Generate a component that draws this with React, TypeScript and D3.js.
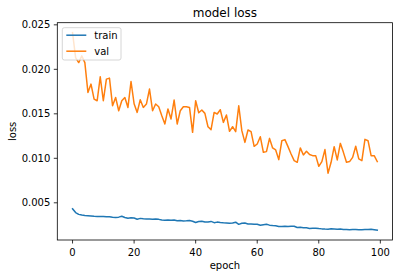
import React from "react";
import * as d3 from "d3";

const epochs: number[] = Array.from({ length: 100 }, (_, i) => i);

const trainLoss: number[] = [
  0.00433, 0.0039, 0.0037, 0.00362, 0.00358, 0.00355, 0.00352, 0.00348, 0.00347, 0.00345,
  0.00346, 0.00342, 0.00343, 0.00338, 0.00336, 0.00339, 0.00349, 0.00335, 0.00327, 0.00331,
  0.00329, 0.00316, 0.00325, 0.0032, 0.00317, 0.00318, 0.00316, 0.00319, 0.00314, 0.00306,
  0.00305, 0.00307, 0.00304, 0.00306, 0.00298, 0.00301, 0.00296, 0.00298, 0.00302, 0.00293,
  0.00279, 0.0029, 0.00292, 0.00284, 0.00285, 0.00291, 0.00277, 0.00283, 0.00279, 0.00276,
  0.00274, 0.00271, 0.00273, 0.00282, 0.00258, 0.0027, 0.00272, 0.00262, 0.00263, 0.00259,
  0.00258, 0.00247, 0.00254, 0.00258, 0.00249, 0.00244, 0.00243, 0.00233, 0.00235, 0.00237,
  0.00233, 0.00236, 0.00237, 0.00222, 0.00225, 0.00221, 0.00219, 0.00212, 0.00214, 0.00215,
  0.0021, 0.00207, 0.00205, 0.00204, 0.00208, 0.00206, 0.00203, 0.00205, 0.002, 0.00199,
  0.00197, 0.00199, 0.002, 0.00196, 0.00197, 0.00199, 0.00201, 0.00203, 0.00198, 0.00193,
];

const valLoss: number[] = [
  0.02413, 0.02132, 0.02076, 0.02151, 0.02076, 0.0174, 0.01834, 0.01666, 0.01647, 0.01916,
  0.01647, 0.0189, 0.01901, 0.01591, 0.01684, 0.01535, 0.01647, 0.01684, 0.01572, 0.01863,
  0.01613, 0.01516, 0.01658, 0.01572, 0.0161, 0.01778, 0.01535, 0.0161, 0.0158, 0.01479,
  0.01386, 0.01554, 0.01442, 0.01655, 0.01386, 0.01535, 0.0158, 0.0158, 0.01572, 0.01292,
  0.01647, 0.01512, 0.01543, 0.01505, 0.01355, 0.01322, 0.01516, 0.01498, 0.01546, 0.01404,
  0.01487, 0.01303, 0.01355, 0.01299, 0.01591, 0.01311, 0.01179, 0.01318, 0.01299, 0.01135,
  0.01161, 0.01243, 0.01067, 0.01075, 0.01224, 0.01117, 0.01094, 0.00985, 0.01198, 0.0121,
  0.01131, 0.01049, 0.00974, 0.00955, 0.01117, 0.01038, 0.01079, 0.01042, 0.0103, 0.0103,
  0.0091, 0.00963, 0.01098, 0.00832, 0.00955, 0.01131, 0.00982, 0.01168, 0.01067, 0.00955,
  0.00963, 0.01011, 0.01135, 0.00993, 0.00974, 0.01213, 0.01198, 0.0103, 0.0103, 0.00963,
];

const xTicks: number[] = [0, 20, 40, 60, 80, 100];
const yTicks: number[] = [0.005, 0.01, 0.015, 0.02, 0.025];
const seriesNames: string[] = ["train", "val"];
const seriesColors: string[] = ["#1f77b4", "#ff7f0e"];

const W = 398;
const H = 278;
const left = 57.3;
const right = 392.5;
const top = 22.7;
const bottom = 240;
const FONT = "DejaVu Sans, sans-serif";

export default function App() {
  const xMin = d3.min(epochs)!;
  const xMax = d3.max(epochs)!;
  const xPad = (xMax - xMin) * 0.05;
  const x = d3.scaleLinear().domain([xMin - xPad, xMax + xPad]).range([left, right]);

  const allY = [...trainLoss, ...valLoss];
  const yMin = d3.min(allY)!;
  const yMax = d3.max(allY)!;
  const yPad = (yMax - yMin) * 0.05;
  const y = d3.scaleLinear().domain([yMin - yPad, yMax + yPad]).range([bottom, top]);

  const line = d3
    .line<number>()
    .x((_, i) => x(epochs[i]))
    .y((d) => y(d));

  const series = [trainLoss, valLoss];

  const legX = left + 5;
  const legY = top + 5;
  const legW = 58.7;
  const legH = 32.3;

  return (
    <svg
      width={W}
      height={H}
      style={{ position: "absolute", left: 0, top: 0, background: "#fff" }}
      fontFamily={FONT}
    >
      <rect x={0} y={0} width={W} height={H} fill="#fff" />
      <defs>
        <clipPath id="plot">
          <rect x={left} y={top} width={right - left} height={bottom - top} />
        </clipPath>
      </defs>
      <g clipPath="url(#plot)">
        {series.map((s, k) => (
          <path
            key={k}
            d={line(s) || ""}
            fill="none"
            stroke={seriesColors[k]}
            strokeWidth={1.5}
            strokeLinejoin="round"
            strokeLinecap="square"
          />
        ))}
      </g>
      {/* spines */}
      <rect
        x={left}
        y={top}
        width={right - left}
        height={bottom - top}
        fill="none"
        stroke="#000"
        strokeWidth={0.8}
      />
      {/* x ticks */}
      {xTicks.map((t) => (
        <g key={"x" + t}>
          <line x1={x(t)} x2={x(t)} y1={bottom} y2={bottom + 3.5} stroke="#000" strokeWidth={0.8} />
          <text x={x(t)} y={256} fontSize={10} textAnchor="middle" fill="#000">
            {String(t)}
          </text>
        </g>
      ))}
      {/* y ticks */}
      {yTicks.map((t) => (
        <g key={"y" + t}>
          <line x1={left - 3.5} x2={left} y1={y(t)} y2={y(t)} stroke="#000" strokeWidth={0.8} />
          <text x={left - 7} y={y(t) + 3.6} fontSize={10} textAnchor="end" fill="#000">
            {t.toFixed(3)}
          </text>
        </g>
      ))}
      {/* labels */}
      <text x={(left + right) / 2} y={16.8} fontSize={12} textAnchor="middle" fill="#000">
        model loss
      </text>
      <text x={(left + right) / 2} y={269} fontSize={10} textAnchor="middle" fill="#000">
        epoch
      </text>
      <text
        transform={`translate(15.5, ${(top + bottom) / 2}) rotate(-90)`}
        fontSize={10}
        textAnchor="middle"
        fill="#000"
      >
        loss
      </text>
      {/* legend */}
      <rect
        x={legX}
        y={legY}
        width={legW}
        height={legH}
        rx={2}
        ry={2}
        fill="#fff"
        fillOpacity={0.8}
        stroke="#cccccc"
        strokeWidth={0.8}
      />
      {seriesNames.map((n, k) => (
        <g key={n}>
          <line
            x1={legX + 4}
            x2={legX + 24}
            y1={legY + 7.5 + k * 16}
            y2={legY + 7.5 + k * 16}
            stroke={seriesColors[k]}
            strokeWidth={1.5}
          />
          <text x={legX + 32} y={legY + 11.2 + k * 16} fontSize={10} fill="#000">
            {n}
          </text>
        </g>
      ))}
    </svg>
  );
}
